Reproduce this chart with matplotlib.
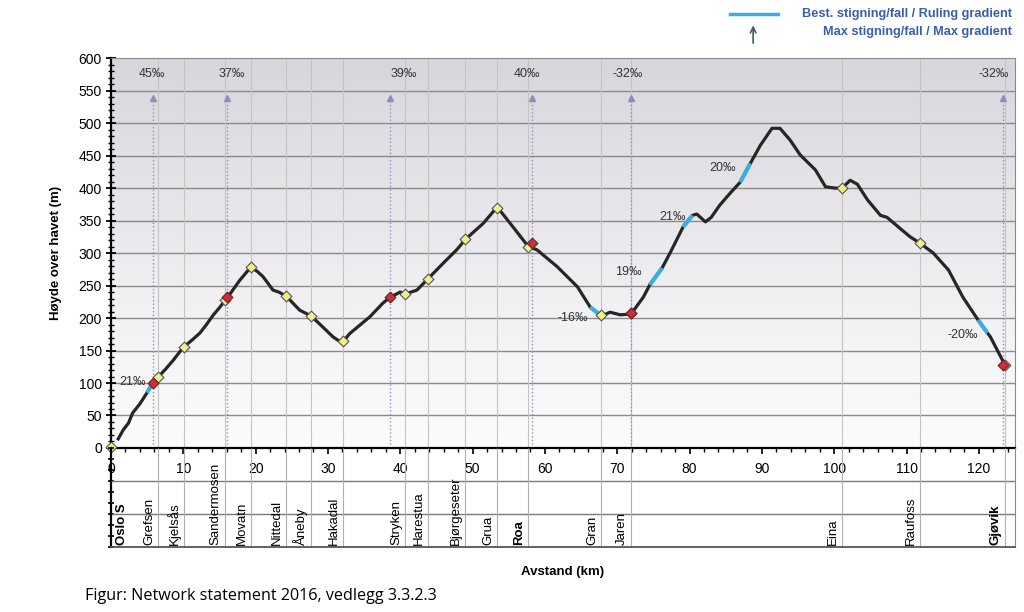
import numpy as np
import matplotlib.pyplot as plt
from matplotlib.colors import LinearSegmentedColormap
from matplotlib.lines import Line2D
from matplotlib.ticker import MultipleLocator
from matplotlib.transforms import offset_copy

plt.rcParams['font.family'] = ['Liberation Sans', 'DejaVu Sans']

# Height profile Oslo S - Gjovik (km, m above sea level)
profile_km = [1.0, 1.7, 2.4, 3.0, 4.0, 4.98, 5.67, 6.5, 7.6, 8.6, 10.0, 11.2, 12.3,
              13.2, 14.1, 15.0, 16.0, 17.8, 19.3, 20.2, 21.0, 22.4, 23.2, 24.2, 26.1,
              27.7, 29.3, 30.7, 31.5, 32.1, 33.0, 35.8, 37.6, 38.6, 40.0, 40.7, 42.3,
              43.8, 45.9, 47.8, 49.0, 51.5, 53.4, 55.6, 57.7, 58.9, 61.7, 64.5, 66.25,
              67.8, 69.0, 70.4, 71.9, 73.6, 74.5, 76.2, 77.3, 79.1, 80.4, 81.0, 82.2,
              83.0, 84.2, 85.6, 87.0, 88.4, 89.8, 91.4, 92.5, 93.9, 95.3, 97.4, 98.8,
              100.1, 101.1, 102.2, 103.2, 104.6, 106.4, 107.3, 109.1, 110.5, 111.9,
              113.7, 115.8, 117.8, 119.9, 121.2, 121.6, 123.6]
profile_m = [14, 28, 38, 54, 68, 85, 98, 109, 122, 135, 155, 166, 177,
             190, 204, 216, 230, 258, 278, 272, 264, 243, 240, 234, 212,
             203, 186, 171, 165, 164, 176, 202, 223, 232, 240, 237, 243,
             260, 284, 305, 321, 346, 371, 340, 310, 305, 279, 248, 217,
             203, 209, 205, 206, 232, 251, 277, 300, 340, 358, 360, 348,
             355, 374, 392, 409, 438, 466, 492, 492, 474, 451, 428, 402,
             400, 400, 412, 406, 382, 358, 355, 338, 325, 315,
             300, 274, 232, 197, 177, 171, 128]

stations = ['Oslo S', 'Grefsen', 'Kjelsås', 'Sandermosen', 'Movatn', 'Nittedal', 'Åneby',
            'Hakadal', 'Stryken', 'Harestua', 'Bjørgeseter', 'Grua', 'Roa', 'Gran',
            'Jaren', 'Eina', 'Raufoss', 'Gjøvik']
station_km = [0.0, 6.5, 10.1, 15.7, 19.3, 24.2, 27.7, 32.1, 40.7, 43.8, 49.0, 53.4,
              57.7, 67.8, 71.9, 101.1, 111.9, 123.6]
station_m = [2, 109, 155, 228, 278, 234, 203, 165, 237, 260, 321, 370, 310, 205,
             207, 400, 315, 127]
bold_stations = ['Oslo S', 'Roa', 'Gjøvik']

# max gradient points
max_km = [5.8, 16.0, 38.6, 58.2, 71.9, 123.4]
max_m = [100, 232, 232, 316, 207, 128]
max_labels = ['45‰', '37‰', '39‰', '40‰', '-32‰', '-32‰']
max_label_km = [5.7, 16.7, 40.5, 57.5, 71.5, 122.0]

# ruling gradient stretches
ruling_km = [[4.98, 5.67], [66.25, 67.8], [74.5, 76.2], [79.1, 80.4], [87.0, 88.4], [119.9, 121.2]]
ruling_m = [[85, 98], [217, 203], [251, 277], [340, 358], [409, 438], [197, 177]]
ruling_labels = ['21‰', '-16‰', '19‰', '21‰', '20‰', '-20‰']
ruling_label_km = [3.0, 63.8, 71.5, 77.6, 84.5, 117.8]
ruling_label_m = [102, 200, 271, 355, 431, 174]

line_blue = '#3aaee0'
arrow_col = '#8a90b8'

fig = plt.figure(figsize=(10.24, 6.12), dpi=100)
ax = fig.add_axes([0.1084, 0.268, 0.8828, 0.637])
ax2 = fig.add_axes([0.1084, 0.1062, 0.8828, 0.1618])
ax2.set_facecolor('none')

# background gradient
cmap = LinearSegmentedColormap.from_list('bg', [(0, '#fcfcfc'), (0.4, '#f0eff2'), (1, '#d9d5dd')])
ax.imshow(np.linspace(0, 1, 200).reshape(-1, 1), extent=[0, 125, 0, 600], origin='lower',
          aspect='auto', cmap=cmap, zorder=0)

ax.hlines(np.arange(50, 600, 50), 0, 125, color='#8a8a8a', lw=1.0, zorder=1)
ax.vlines(station_km, 0, 600, color='#c4c4c4', lw=0.8, zorder=1)
ax.vlines(max_km, 0, 535, color=arrow_col, lw=1.0, linestyles=':', zorder=1)
ax.plot(max_km, np.full(len(max_km), 538), '^', ms=4, color=arrow_col, zorder=2)
for k, t in zip(max_label_km, max_labels):
    ax.text(k, 575, t, ha='center', va='center', fontsize=9, color='#333333')

ax.plot(profile_km, profile_m, color='#262626', lw=2.3, zorder=3)
for kms, ms in zip(ruling_km, ruling_m):
    ax.plot(kms, ms, color=line_blue, lw=3, zorder=4, solid_capstyle='butt')
for k, m, t in zip(ruling_label_km, ruling_label_m, ruling_labels):
    ax.text(k, m, t, ha='center', va='center', fontsize=9, color='#333333', zorder=4)

ax.scatter(station_km, station_m, marker='D', s=30, facecolor='#eef08a', edgecolor='#555555',
           lw=0.8, zorder=5, clip_on=False)
ax.scatter(max_km, max_m, marker='D', s=30, facecolor='#c8303c', edgecolor='#6a2020',
           lw=0.8, zorder=6)

ax.set_xlim(0, 125)
ax.set_ylim(0, 600)
ax.set_xticks(np.arange(0, 121, 10))
ax.xaxis.set_minor_locator(MultipleLocator(2))
ax.set_yticks(np.arange(0, 601, 50))
ax.yaxis.set_minor_locator(MultipleLocator(10))
ax.tick_params(axis='x', which='major', direction='out', length=4, width=1.2, pad=6, labelsize=10)
ax.tick_params(axis='x', which='minor', direction='out', length=3, width=1)
ax.tick_params(axis='y', which='major', direction='inout', length=7, width=1.3, pad=3, labelsize=10)
ax.tick_params(axis='y', which='minor', direction='inout', length=4, width=1)
for s in ['left', 'bottom']:
    ax.spines[s].set_linewidth(1.6)
for s in ['top', 'right']:
    ax.spines[s].set_color('#8a8a8a')
ax.set_ylabel('Høyde over havet (m)', fontsize=9.5, fontweight='bold', labelpad=12)

# station table below the axis
ax2.set_xlim(0, 125)
ax2.set_ylim(0, 3)
ax2.hlines([1, 2], 0, 125, color='#7a7a7a', lw=1.0)
ax2.vlines(station_km[1:], 0, 3, color='#b0b0b0', lw=0.8)
ax2.set_xticks([])
ax2.set_yticks(np.linspace(0, 3, 10))
ax2.set_yticklabels([])
ax2.tick_params(axis='y', direction='inout', length=5, width=1.2)
ax2.spines['top'].set_visible(False)
ax2.spines['left'].set_linewidth(1.6)
ax2.spines['bottom'].set_color('#555555')
ax2.spines['bottom'].set_linewidth(1.3)
ax2.spines['right'].set_color('#8a8a8a')
left_tr = offset_copy(ax2.transData, fig=fig, x=-3, y=0, units='dots')
right_tr = offset_copy(ax2.transData, fig=fig, x=5, y=0, units='dots')
for name, k in zip(stations, station_km):
    w = 'bold' if name in bold_stations else 'normal'
    if k == 0:
        ax2.text(k, 0.06, name, rotation=90, ha='left', va='bottom', fontsize=9.5,
                 fontweight=w, transform=right_tr)
    else:
        ax2.text(k, 0.06, name, rotation=90, ha='right', va='bottom', fontsize=9.5,
                 fontweight=w, transform=left_tr)

fig.text(0.549, 0.065, 'Avstand (km)', ha='center', va='center', fontsize=9.5, fontweight='bold')

# legend at the top
fig.add_artist(Line2D([0.713, 0.760], [0.977, 0.977], color=line_blue, lw=2.5))
ax.annotate('', xy=(0.7355, 0.963), xytext=(0.7355, 0.925), xycoords='figure fraction',
            textcoords='figure fraction', annotation_clip=False,
            arrowprops=dict(arrowstyle='->', color='#3c5a6a', lw=1.2))
fig.text(0.988, 0.977, 'Best. stigning/fall / Ruling gradient', ha='right', va='center',
         fontsize=9.2, fontweight='bold', color='#3a5ea8')
fig.text(0.988, 0.948, 'Max stigning/fall / Max gradient', ha='right', va='center',
         fontsize=9.2, fontweight='bold', color='#3a5ea8')

fig.text(0.083, 0.026, 'Figur: Network statement 2016, vedlegg 3.3.2.3', ha='left', va='center',
         fontsize=11.6, family=['Open Sans', 'DejaVu Sans'])

fig.savefig('out.png', dpi=100)
